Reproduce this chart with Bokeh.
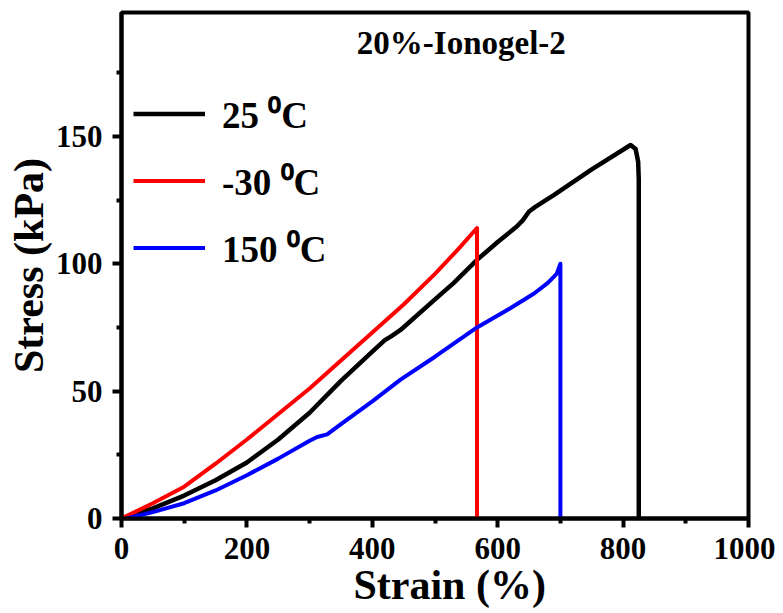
from bokeh.plotting import figure
from bokeh.models import Range1d, FixedTicker, Legend, LegendItem, Label
from bokeh.embed import file_html
from bokeh.resources import INLINE

# ---- data ----
strain_25 = [0, 50, 100, 150, 200, 250, 300, 350, 400, 420, 430, 445, 500, 530, 567,
             600, 630, 640, 650, 660, 690, 750, 812, 820, 824, 825, 825]
stress_25 = [0, 4, 9, 15, 22, 31, 41.5, 54, 65.5, 70, 71.5, 74, 86, 92.5, 101.5,
             108.5, 114.5, 117, 120.5, 122.3, 127, 137, 146.6, 145, 140, 133, 0]

strain_m30 = [0, 50, 100, 150, 200, 250, 300, 350, 400, 450, 500, 540, 567, 567]
stress_m30 = [0, 6, 12.5, 21.5, 31, 41, 51, 62, 73, 84, 96, 106.5, 114, 0]

strain_150 = [8, 50, 100, 150, 200, 250, 300, 312, 328, 350, 400, 445, 500, 567,
              620, 658, 680, 694, 700, 700]
stress_150 = [0, 2.5, 6, 11, 17, 23.5, 30.5, 32, 33, 37, 46, 54.5, 63.5, 75,
              82.5, 88.3, 92.5, 96, 100, 0]

series_labels = ["25 \u2070C", "-30 \u2070C", "150 \u2070C"]
series_colors = ["#000000", "#ff0000", "#0000ff"]

x_ticks = [0, 200, 400, 600, 800, 1000]
x_minor = [100, 300, 500, 700, 900]
y_ticks = [0, 50, 100, 150]
y_minor = [25, 75, 125, 175]

title_text = "20%-Ionogel-2"
FONT = "Liberation Serif"

p = figure(width=775, height=612, output_backend="svg", toolbar_location=None,
           x_range=Range1d(0, 1000), y_range=Range1d(0, 198.6),
           min_border_left=121, min_border_right=27, min_border_top=12,
           min_border_bottom=94)

p.xgrid.visible = False
p.ygrid.visible = False
p.background_fill_color = "white"
p.border_fill_color = "white"
p.outline_line_color = "black"
p.outline_line_width = 4

r1 = p.line(strain_25, stress_25, line_color=series_colors[0], line_width=4.5,
            line_join="round")
r2 = p.line(strain_m30, stress_m30, line_color=series_colors[1], line_width=4,
            line_join="round")
r3 = p.line(strain_150, stress_150, line_color=series_colors[2], line_width=4,
            line_join="round")

for ax in (p.xaxis[0], p.yaxis[0]):
    ax.axis_line_width = 4
    ax.axis_line_color = "black"
    ax.major_tick_line_width = 4
    ax.minor_tick_line_width = 4
    ax.major_tick_in = 0
    ax.minor_tick_in = 0
    ax.major_tick_out = 9
    ax.minor_tick_out = 5
    ax.major_label_text_font = FONT
    ax.major_label_text_font_style = "bold"
    ax.major_label_text_font_size = "31px"
    ax.major_label_text_color = "black"
    ax.axis_label_text_font = FONT
    ax.axis_label_text_font_style = "bold"
    ax.axis_label_text_font_size = "42px"
    ax.axis_label_text_color = "black"

p.xaxis[0].ticker = FixedTicker(ticks=x_ticks, minor_ticks=x_minor)
p.yaxis[0].ticker = FixedTicker(ticks=y_ticks, minor_ticks=y_minor)
p.xaxis[0].axis_label = "\u2002\u2009Strain (%)"
p.yaxis[0].axis_label = "Stress (kPa)"
p.xaxis[0].major_label_standoff = 10
p.xaxis[0].axis_label_standoff = 0
p.yaxis[0].major_label_standoff = 10
p.yaxis[0].axis_label_standoff = 1

legend = Legend(items=[LegendItem(label=series_labels[0], renderers=[r1]),
                       LegendItem(label=series_labels[1], renderers=[r2]),
                       LegendItem(label=series_labels[2], renderers=[r3])],
                location=(12, 245), orientation="vertical",
                border_line_color=None, background_fill_alpha=0,
                padding=0, margin=0, spacing=16,
                glyph_width=72, glyph_height=39, label_height=39,
                label_standoff=17,
                label_text_font=FONT, label_text_font_style="bold",
                label_text_font_size="37px", label_text_color="black")
p.add_layout(legend, "center")

p.add_layout(Label(x=542, y=186.5, text=title_text, text_align="center",
                   text_baseline="middle", text_font=FONT,
                   text_font_style="bold", text_font_size="33px",
                   text_color="black"))

open("out.html", "w").write(file_html(p, INLINE))
